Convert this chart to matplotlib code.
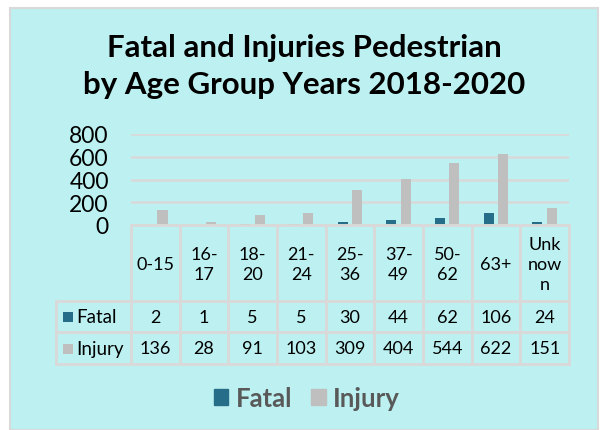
import matplotlib
matplotlib.use('Agg')
import matplotlib.pyplot as plt
from matplotlib.patches import Rectangle
import numpy as np

plt.rcParams['font.family'] = 'Lato'

# Daten
age_groups = ['0-15', '16-\n17', '18-\n20', '21-\n24', '25-\n36', '37-\n49', '50-\n62', '63+', 'Unk\nnow\nn']
fatal = [2, 1, 5, 5, 30, 44, 62, 106, 24]
injury = [136, 28, 91, 103, 309, 404, 544, 622, 151]
series_names = ['Fatal', 'Injury']
y_ticks = [0, 200, 400, 600, 800]

c_fatal = '#266D89'
c_injury = '#BFBFBF'
c_bg = '#BDF1F1'
c_line = '#D9D9D9'

W, H = 600, 431
fig = plt.figure(figsize=(W / 100, H / 100), dpi=100)
fig.patch.set_facecolor('white')


def fx(px):
    return px / W


def fy(py):
    return 1 - py / H


# Hintergrund-Panel
fig.patches.append(Rectangle((fx(10), 0), fx(598) - fx(10), fy(9), transform=fig.transFigure,
                             facecolor=c_bg, edgecolor=c_line, linewidth=1.5, zorder=-5))

# Titel
fig.text(fx(304), fy(57), 'Fatal and Injuries Pedestrian', ha='center', va='baseline',
         fontsize=22.5, fontweight='bold', color='black')
fig.text(fx(304), fy(94), 'by Age Group Years 2018-2020', ha='center', va='baseline',
         fontsize=22.5, fontweight='bold', color='black')

# Balkendiagramm
left, right, top, bottom = 131, 569, 135, 226
ax = fig.add_axes([fx(left), fy(bottom), fx(right) - fx(left), fy(top) - fy(bottom)])
ax.set_facecolor('none')
x = np.arange(len(age_groups))
ax.bar(x - 0.15, fatal, 0.21, color=c_fatal, zorder=3)
ax.bar(x + 0.145, injury, 0.21, color=c_injury, zorder=3)
ax.set_xlim(-0.5, len(age_groups) - 0.5)
ax.set_ylim(0, 800)
ax.set_yticks(y_ticks)
ax.set_xticks([])
ax.yaxis.grid(True, color=c_line, linewidth=1.8)
ax.tick_params(axis='y', length=0, labelsize=16.5, pad=16)
for s in ax.spines.values():
    s.set_visible(False)

# Datentabelle
col_w = (right - left) / len(age_groups)
label_left = 56
tax = fig.add_axes([fx(label_left), fy(365), fx(right) - fx(label_left), fy(226) - fy(365)])
tax.set_xlim(-0.5 - (left - label_left) / col_w, len(age_groups) - 0.5)
tax.set_ylim(365, 226)
tax.axis('off')
xl = -0.5 - (left - label_left) / col_w
xr = len(age_groups) - 0.5
row_y = [226, 302, 333, 365]
lk = dict(color=c_line, linewidth=2.1, clip_on=False, solid_capstyle='projecting')
tax.plot([-0.5, xr], [226, 226], **lk)
for yy in row_y[1:]:
    tax.plot([xl, xr], [yy, yy], **lk)
for i in range(len(age_groups) + 1):
    tax.plot([i - 0.5, i - 0.5], [226, 365], **lk)
tax.plot([xl, xl], [302, 365], **lk)

for i, lab in enumerate(age_groups):
    tax.text(i, 265, lab, ha='center', va='center', fontsize=13, linespacing=1.3)
    tax.text(i, 318, str(fatal[i]), ha='center', va='center', fontsize=13)
    tax.text(i, 349.5, str(injury[i]), ha='center', va='center', fontsize=13)

sq = 10 / col_w
for yy, name, col in [(318, series_names[0], c_fatal), (349.5, series_names[1], c_injury)]:
    x0 = xl + 7 / col_w
    tax.add_patch(Rectangle((x0, yy - 5), sq, 10, facecolor=col, edgecolor='none', clip_on=False))
    tax.text(x0 + 13 / col_w, yy, name, ha='left', va='center', fontsize=13.5)

# Legende
handles = [Rectangle((0, 0), 1, 1, color=c_fatal), Rectangle((0, 0), 1, 1, color=c_injury)]
fig.legend(handles, series_names, loc='center', bbox_to_anchor=(fx(307), fy(399)), ncol=2,
           frameon=False, prop={'weight': 'bold', 'size': 18.5}, labelcolor='#595959',
           handlelength=0.55, handleheight=0.55, handletextpad=0.3, columnspacing=0.75,
           borderpad=0)

fig.savefig('out.png', dpi=100, facecolor='white')
